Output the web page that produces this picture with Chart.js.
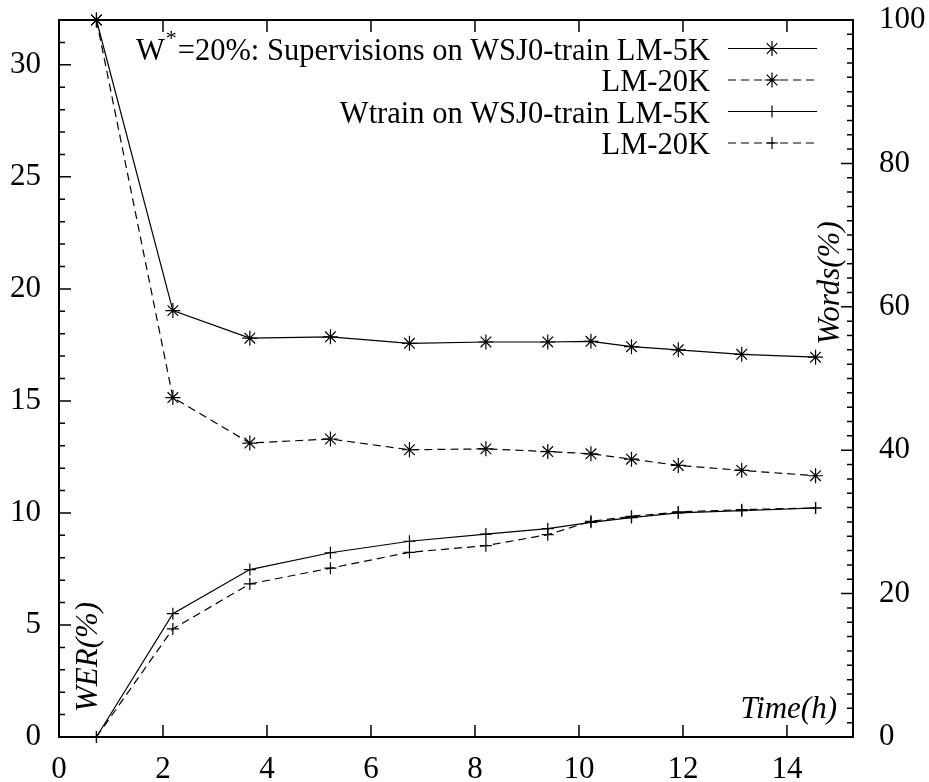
<!DOCTYPE html>
<html>
<head>
<meta charset="utf-8">
<script src="https://cdn.jsdelivr.net/npm/chart.js@4.4.1/dist/chart.umd.min.js"></script>
<style>
  html, body { margin: 0; padding: 0; background: #fff; }
  #wrap { width: 929px; height: 782px; }
</style>
</head>
<body>
<div id="wrap"><canvas id="chart" width="929" height="782"></canvas></div>
<script>
// time (h) of each measurement
const hours = [0.72, 2.19, 3.67, 5.22, 6.74, 8.21, 9.40, 10.23, 11.01, 11.91, 13.13, 14.55];

// WER(%) - left axis
const werSup5k  = [32.0, 19.03, 17.80, 17.86, 17.57, 17.63, 17.63, 17.66, 17.42, 17.28, 17.08, 16.95];
const werSup20k = [32.0, 15.15, 13.12, 13.30, 12.82, 12.86, 12.74, 12.64, 12.40, 12.12, 11.90, 11.66];

// Words(%) - right axis
const wordsTrain5k  = [0, 17.2, 23.35, 25.7, 27.3, 28.3, 29.06, 29.94, 30.6, 31.25, 31.57, 31.94];
const wordsTrain20k = [0, 15.08, 21.35, 23.55, 25.76, 26.69, 28.22, 30.08, 30.78, 31.39, 31.71, 31.94];

const xTicks = [0, 2, 4, 6, 8, 10, 12, 14];
const werTicks = [0, 5, 10, 15, 20, 25, 30];
const wordsTicks = [0, 20, 40, 60, 80, 100];

const seriesLabels = [
  'W*=20%: Supervisions on WSJ0-train LM-5K',
  'LM-20K',
  'Wtrain on WSJ0-train LM-5K',
  'LM-20K',
];

const FONT = '"Liberation Serif", "Times New Roman", serif';
const tickFont = { family: FONT, size: 31 };

function pts(ys) {
  return hours.map((h, i) => ({ x: h, y: ys[i] }));
}

function series(label, ys, axis, style, dashed) {
  return {
    label,
    data: pts(ys),
    yAxisID: axis,
    borderColor: '#000',
    backgroundColor: '#000',
    borderWidth: 1.2,
    borderDash: dashed ? [8, 5] : [],
    pointStyle: style,
    pointRadius: style === 'star' ? 7.5 : 6,
    pointBorderWidth: 1.2,
    pointBorderColor: '#000',
    tension: 0,
    fill: false,
    clip: false,
  };
}

function noPad(s) {
  s.paddingTop = 0; s.paddingBottom = 0; s.paddingLeft = 0; s.paddingRight = 0;
}

const frame = {
  id: 'frame',
  beforeDatasetsDraw(chart) {
    const { ctx, chartArea: a, scales } = chart;
    ctx.save();
    ctx.strokeStyle = '#000';
    ctx.lineWidth = 1.5;
    ctx.beginPath();
    xTicks.forEach(v => {
      const px = scales.x.getPixelForValue(v);
      ctx.moveTo(px, a.bottom); ctx.lineTo(px, a.bottom - 12);
      ctx.moveTo(px, a.top); ctx.lineTo(px, a.top + 12);
    });
    for (let v = 0; v <= 32; v++) {
      const py = scales.y.getPixelForValue(v);
      const len = v % 5 === 0 ? 12 : 6;
      ctx.moveTo(a.left, py); ctx.lineTo(a.left + len, py);
    }
    for (let v = 0; v <= 100; v += 2) {
      const py = scales.y2.getPixelForValue(v);
      const len = v % 20 === 0 ? 12 : 6;
      ctx.moveTo(a.right, py); ctx.lineTo(a.right - len, py);
    }
    ctx.stroke();
    ctx.lineWidth = 2;
    ctx.strokeRect(a.left, a.top, a.right - a.left, a.bottom - a.top);
    ctx.restore();
  },
  afterDraw(chart) {
    const { ctx, chartArea: a } = chart;
    ctx.save();
    ctx.fillStyle = '#000';

    // axis titles inside the frame
    ctx.font = 'italic 31px ' + FONT;
    ctx.textBaseline = 'alphabetic';
    ctx.textAlign = 'right';
    ctx.fillText('Time(h)', a.right - 16, a.bottom - 19);

    ctx.save();
    ctx.translate(a.left + 38, 712);
    ctx.rotate(-Math.PI / 2);
    ctx.textAlign = 'left';
    ctx.fillText('WER(%)', 0, 0);
    ctx.restore();

    ctx.save();
    ctx.translate(a.right - 14, 283);
    ctx.rotate(-Math.PI / 2);
    ctx.textAlign = 'center';
    ctx.fillText('Words(%)', 0, 0);
    ctx.restore();

    // key
    const textRight = 710, lineL = 728, lineR = 817, markX = 772;
    chart.data.datasets.forEach((ds, i) => {
      const y = 48.5 + i * 31.5;
      ctx.font = '30.5px ' + FONT;
      ctx.textBaseline = 'middle';
      ctx.textAlign = 'right';
      const label = seriesLabels[i];
      if (label.startsWith('W*')) {
        const rest = label.slice(2);
        const wRest = ctx.measureText(rest).width;
        ctx.fillText(rest, textRight, y + 3);
        ctx.font = '22px ' + FONT;
        const wStar = ctx.measureText('*').width;
        ctx.fillText('*', textRight - wRest - 1, y - 9);
        ctx.font = '30.5px ' + FONT;
        ctx.fillText('W', textRight - wRest - wStar - 2, y + 3);
      } else {
        ctx.fillText(label, textRight, y + 3);
      }
      ctx.save();
      ctx.strokeStyle = '#000';
      ctx.lineWidth = 1.2;
      ctx.setLineDash(ds.borderDash);
      ctx.beginPath();
      ctx.moveTo(lineL, y); ctx.lineTo(lineR, y);
      ctx.stroke();
      ctx.restore();
      ctx.save();
      ctx.strokeStyle = '#000';
      ctx.lineWidth = 1.2;
      Chart.helpers.drawPoint(ctx, {
        pointStyle: ds.pointStyle, radius: ds.pointRadius, rotation: 0, borderWidth: 1.2,
      }, markX, y);
      ctx.restore();
    });
    ctx.restore();
  },
};

new Chart(document.getElementById('chart'), {
  type: 'line',
  data: {
    datasets: [
      series(seriesLabels[0], werSup5k, 'y', 'star', false),
      series(seriesLabels[1], werSup20k, 'y', 'star', true),
      series(seriesLabels[2], wordsTrain5k, 'y2', 'cross', false),
      series(seriesLabels[3], wordsTrain20k, 'y2', 'cross', true),
    ],
  },
  options: {
    responsive: false,
    animation: false,
    devicePixelRatio: 1,
    layout: { padding: { top: 20, left: 0, right: 0, bottom: 0 } },
    plugins: { legend: { display: false }, tooltip: { enabled: false } },
    scales: {
      x: {
        type: 'linear', min: 0, max: 15.27,
        afterBuildTicks: s => { s.ticks = xTicks.map(v => ({ value: v })); },
        afterFit: s => { s.height = 45; noPad(s); },
        grid: { display: false, drawTicks: false },
        border: { display: false },
        ticks: { color: '#000', font: tickFont, padding: 14, maxRotation: 0, autoSkip: false },
      },
      y: {
        position: 'left', min: 0, max: 32,
        afterBuildTicks: s => { s.ticks = werTicks.map(v => ({ value: v })); },
        afterFit: s => { s.width = 59; noPad(s); },
        grid: { display: false, drawTicks: false },
        border: { display: false },
        ticks: { color: '#000', font: tickFont, padding: 18, autoSkip: false },
      },
      y2: {
        position: 'right', min: 0, max: 100,
        afterBuildTicks: s => { s.ticks = wordsTicks.map(v => ({ value: v })); },
        afterFit: s => { s.width = 76; noPad(s); },
        grid: { display: false, drawTicks: false },
        border: { display: false },
        ticks: { color: '#000', font: tickFont, padding: 26, autoSkip: false },
      },
    },
  },
  plugins: [frame],
});
</script>
</body>
</html>
